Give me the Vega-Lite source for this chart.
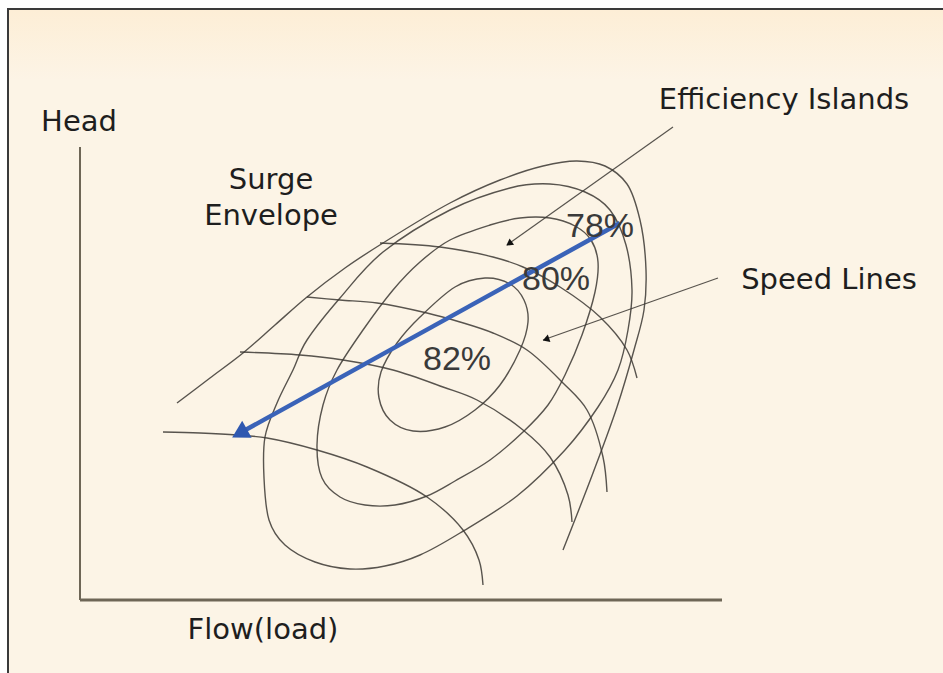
{
  "$schema": "https://vega.github.io/schema/vega-lite/v6.json",
  "width": 943,
  "height": 673,
  "padding": 0,
  "autosize": {"type": "fit", "contains": "padding"},
  "background": "#ffffff",
  "config": {"view": {"stroke": null}},
  "datasets": {
    "open": [
      {"curve":"surge","i":0,"flow":97,"head":197},{"curve":"surge","i":1,"flow":130,"head":222},{"curve":"surge","i":2,"flow":163,"head":247},{"curve":"surge","i":3,"flow":195,"head":275},{"curve":"surge","i":4,"flow":227,"head":303},{"curve":"surge","i":5,"flow":265,"head":332},{"curve":"surge","i":6,"flow":303,"head":357},{"curve":"surge","i":7,"flow":370,"head":397},{"curve":"surge","i":8,"flow":420,"head":420},{"curve":"surge","i":9,"flow":463,"head":434},{"curve":"surge","i":10,"flow":497,"head":439},{"curve":"surge","i":11,"flow":525,"head":434},{"curve":"surge","i":12,"flow":547,"head":416},{"curve":"surge","i":13,"flow":560,"head":380},{"curve":"surge","i":14,"flow":566,"head":330},{"curve":"surge","i":15,"flow":564,"head":290},{"curve":"surge","i":16,"flow":554,"head":250},{"curve":"surge","i":17,"flow":537,"head":193},{"curve":"surge","i":18,"flow":513,"head":127},{"curve":"surge","i":19,"flow":483,"head":50},
      {"curve":"S1","i":0,"flow":300,"head":357},{"curve":"S1","i":1,"flow":360,"head":353},{"curve":"S1","i":2,"flow":413,"head":343},{"curve":"S1","i":3,"flow":443,"head":333},{"curve":"S1","i":4,"flow":480,"head":313},{"curve":"S1","i":5,"flow":520,"head":283},{"curve":"S1","i":6,"flow":547,"head":250},{"curve":"S1","i":7,"flow":557,"head":222},
      {"curve":"S2","i":0,"flow":227,"head":303},{"curve":"S2","i":1,"flow":260,"head":300},{"curve":"S2","i":2,"flow":297,"head":297},{"curve":"S2","i":3,"flow":347,"head":287},{"curve":"S2","i":4,"flow":380,"head":278},{"curve":"S2","i":5,"flow":413,"head":267},{"curve":"S2","i":6,"flow":447,"head":250},{"curve":"S2","i":7,"flow":483,"head":217},{"curve":"S2","i":8,"flow":507,"head":190},{"curve":"S2","i":9,"flow":523,"head":143},{"curve":"S2","i":10,"flow":527,"head":108},
      {"curve":"S3","i":0,"flow":160,"head":248},{"curve":"S3","i":1,"flow":220,"head":245},{"curve":"S3","i":2,"flow":263,"head":240},{"curve":"S3","i":3,"flow":313,"head":230},{"curve":"S3","i":4,"flow":363,"head":213},{"curve":"S3","i":5,"flow":397,"head":200},{"curve":"S3","i":6,"flow":443,"head":170},{"curve":"S3","i":7,"flow":470,"head":143},{"curve":"S3","i":8,"flow":488,"head":105},{"curve":"S3","i":9,"flow":492,"head":78},
      {"curve":"S4","i":0,"flow":83,"head":168},{"curve":"S4","i":1,"flow":120,"head":167},{"curve":"S4","i":2,"flow":157,"head":165},{"curve":"S4","i":3,"flow":187,"head":162},{"curve":"S4","i":4,"flow":237,"head":150},{"curve":"S4","i":5,"flow":287,"head":133},{"curve":"S4","i":6,"flow":347,"head":103},{"curve":"S4","i":7,"flow":383,"head":70},{"curve":"S4","i":8,"flow":399,"head":40},{"curve":"S4","i":9,"flow":403,"head":15}
    ],
    "islands": [
      {"curve":"E82","i":0,"flow":340,"head":283},{"curve":"E82","i":1,"flow":375,"head":313},{"curve":"E82","i":2,"flow":405,"head":322},{"curve":"E82","i":3,"flow":430,"head":316},{"curve":"E82","i":4,"flow":444,"head":300},{"curve":"E82","i":5,"flow":448,"head":278},{"curve":"E82","i":6,"flow":440,"head":250},{"curve":"E82","i":7,"flow":420,"head":215},{"curve":"E82","i":8,"flow":395,"head":190},{"curve":"E82","i":9,"flow":365,"head":173},{"curve":"E82","i":10,"flow":333,"head":169},{"curve":"E82","i":11,"flow":310,"head":180},{"curve":"E82","i":12,"flow":299,"head":202},{"curve":"E82","i":13,"flow":301,"head":228},{"curve":"E82","i":14,"flow":317,"head":257},
      {"curve":"E80","i":0,"flow":237,"head":155},{"curve":"E80","i":1,"flow":242,"head":122},{"curve":"E80","i":2,"flow":260,"head":103},{"curve":"E80","i":3,"flow":285,"head":95},{"curve":"E80","i":4,"flow":315,"head":95},{"curve":"E80","i":5,"flow":347,"head":104},{"curve":"E80","i":6,"flow":375,"head":119},{"curve":"E80","i":7,"flow":410,"head":140},{"curve":"E80","i":8,"flow":443,"head":168},{"curve":"E80","i":9,"flow":468,"head":195},{"curve":"E80","i":10,"flow":485,"head":225},{"curve":"E80","i":11,"flow":502,"head":265},{"curve":"E80","i":12,"flow":515,"head":308},{"curve":"E80","i":13,"flow":518,"head":338},{"curve":"E80","i":14,"flow":511,"head":360},{"curve":"E80","i":15,"flow":495,"head":374},{"curve":"E80","i":16,"flow":470,"head":382},{"curve":"E80","i":17,"flow":440,"head":382},{"curve":"E80","i":18,"flow":410,"head":375},{"curve":"E80","i":19,"flow":370,"head":360},{"curve":"E80","i":20,"flow":340,"head":338},{"curve":"E80","i":21,"flow":313,"head":310},{"curve":"E80","i":22,"flow":283,"head":270},{"curve":"E80","i":23,"flow":257,"head":230},{"curve":"E80","i":24,"flow":243,"head":195},
      {"curve":"E78","i":0,"flow":185,"head":163},{"curve":"E78","i":1,"flow":184,"head":122},{"curve":"E78","i":2,"flow":189,"head":80},{"curve":"E78","i":3,"flow":205,"head":55},{"curve":"E78","i":4,"flow":235,"head":38},{"curve":"E78","i":5,"flow":270,"head":31},{"curve":"E78","i":6,"flow":305,"head":34},{"curve":"E78","i":7,"flow":340,"head":45},{"curve":"E78","i":8,"flow":380,"head":67},{"curve":"E78","i":9,"flow":437,"head":104},{"curve":"E78","i":10,"flow":485,"head":150},{"curve":"E78","i":11,"flow":518,"head":193},{"curve":"E78","i":12,"flow":538,"head":230},{"curve":"E78","i":13,"flow":548,"head":270},{"curve":"E78","i":14,"flow":552,"head":310},{"curve":"E78","i":15,"flow":546,"head":355},{"curve":"E78","i":16,"flow":530,"head":390},{"curve":"E78","i":17,"flow":505,"head":408},{"curve":"E78","i":18,"flow":470,"head":416},{"curve":"E78","i":19,"flow":430,"head":412},{"curve":"E78","i":20,"flow":370,"head":390},{"curve":"E78","i":21,"flow":303,"head":348},{"curve":"E78","i":22,"flow":260,"head":302},{"curve":"E78","i":23,"flow":227,"head":260},{"curve":"E78","i":24,"flow":213,"head":230},{"curve":"E78","i":25,"flow":197,"head":197}
    ],
    "leaders": [
      {"curve":"EI","i":0,"flow":593,"head":473},{"curve":"EI","i":1,"flow":427,"head":355},
      {"curve":"SL","i":0,"flow":638,"head":322},{"curve":"SL","i":1,"flow":463,"head":260}
    ],
    "blue": [
      {"curve":"arrow","i":0,"flow":540,"head":377},{"curve":"arrow","i":1,"flow":160,"head":167}
    ]
  },
  "layer": [
    {
      "data": {"values": [{"x1": -72, "x2": 900, "y1": 591, "y2": -120}]},
      "mark": {"type": "rect", "fill": "#fcf4e6", "stroke": "#3a3a3a", "strokeWidth": 2, "clip": true},
      "encoding": {
        "x": {"field": "x1", "type": "quantitative", "scale": {"domain": [-80, 863], "nice": false, "zero": false}, "axis": null},
        "x2": {"field": "x2"},
        "y": {"field": "y1", "type": "quantitative", "scale": {"domain": [-73, 600], "nice": false, "zero": false}, "axis": null},
        "y2": {"field": "y2"}
      }
    },
    {
      "data": {"values": [{"x1": -71, "x2": 863, "y1": 590, "y2": 520}]},
      "mark": {"type": "rect", "clip": true, "fill": {"gradient": "linear", "x1": 0, "y1": 0, "x2": 0, "y2": 1, "stops": [{"offset": 0, "color": "#fdeed6"}, {"offset": 1, "color": "#fcf4e6"}]}},
      "encoding": {
        "x": {"field": "x1", "type": "quantitative", "scale": {"domain": [-80, 863], "nice": false, "zero": false}, "axis": null},
        "x2": {"field": "x2"},
        "y": {"field": "y1", "type": "quantitative", "scale": {"domain": [-73, 600], "nice": false, "zero": false}, "axis": null},
        "y2": {"field": "y2"}
      }
    },
    {
      "data": {"values": [{"axis": "Head", "x1": 0, "x2": 0, "y1": 0, "y2": 453}]},
      "mark": {"type": "rule", "stroke": "#6e6656", "strokeWidth": 2},
      "encoding": {
        "x": {"field": "x1", "type": "quantitative", "scale": {"domain": [-80, 863], "nice": false, "zero": false}, "axis": null},
        "x2": {"field": "x2"},
        "y": {"field": "y1", "type": "quantitative", "scale": {"domain": [-73, 600], "nice": false, "zero": false}, "axis": null},
        "y2": {"field": "y2"}
      }
    },
    {
      "data": {"values": [{"axis": "Flow", "x1": 0, "x2": 642, "y1": 0, "y2": 0}]},
      "mark": {"type": "rule", "stroke": "#6e6656", "strokeWidth": 3},
      "encoding": {
        "x": {"field": "x1", "type": "quantitative", "scale": {"domain": [-80, 863], "nice": false, "zero": false}, "axis": null},
        "x2": {"field": "x2"},
        "y": {"field": "y1", "type": "quantitative", "scale": {"domain": [-73, 600], "nice": false, "zero": false}, "axis": null},
        "y2": {"field": "y2"}
      }
    },
    {
      "data": {"name": "open"},
      "mark": {"type": "line", "interpolate": "catmull-rom", "stroke": "#3b3733", "strokeWidth": 1.4, "strokeOpacity": 0.85},
      "encoding": {
        "x": {"field": "flow", "type": "quantitative", "scale": {"domain": [-80, 863], "nice": false, "zero": false}, "axis": null},
        "y": {"field": "head", "type": "quantitative", "scale": {"domain": [-73, 600], "nice": false, "zero": false}, "axis": null},
        "detail": {"field": "curve"},
        "order": {"field": "i", "type": "quantitative"}
      }
    },
    {
      "data": {"name": "islands"},
      "mark": {"type": "line", "interpolate": "cardinal-closed", "stroke": "#3b3733", "strokeWidth": 1.4, "strokeOpacity": 0.85},
      "encoding": {
        "x": {"field": "flow", "type": "quantitative", "scale": {"domain": [-80, 863], "nice": false, "zero": false}, "axis": null},
        "y": {"field": "head", "type": "quantitative", "scale": {"domain": [-73, 600], "nice": false, "zero": false}, "axis": null},
        "detail": {"field": "curve"},
        "order": {"field": "i", "type": "quantitative"}
      }
    },
    {
      "data": {"name": "leaders"},
      "mark": {"type": "line", "stroke": "#3b3733", "strokeWidth": 1.2, "strokeOpacity": 0.85},
      "encoding": {
        "x": {"field": "flow", "type": "quantitative", "scale": {"domain": [-80, 863], "nice": false, "zero": false}, "axis": null},
        "y": {"field": "head", "type": "quantitative", "scale": {"domain": [-73, 600], "nice": false, "zero": false}, "axis": null},
        "detail": {"field": "curve"},
        "order": {"field": "i", "type": "quantitative"}
      }
    },
    {
      "data": {"values": [{"tip": "EI", "flow": 430, "head": 357}]},
      "mark": {"type": "point", "shape": "triangle", "filled": true, "color": "#111111", "opacity": 1, "size": 60, "angle": 234.6},
      "encoding": {
        "x": {"field": "flow", "type": "quantitative", "scale": {"domain": [-80, 863], "nice": false, "zero": false}, "axis": null},
        "y": {"field": "head", "type": "quantitative", "scale": {"domain": [-73, 600], "nice": false, "zero": false}, "axis": null}
      }
    },
    {
      "data": {"values": [{"tip": "SL", "flow": 467, "head": 261}]},
      "mark": {"type": "point", "shape": "triangle", "filled": true, "color": "#111111", "opacity": 1, "size": 60, "angle": 250.5},
      "encoding": {
        "x": {"field": "flow", "type": "quantitative", "scale": {"domain": [-80, 863], "nice": false, "zero": false}, "axis": null},
        "y": {"field": "head", "type": "quantitative", "scale": {"domain": [-73, 600], "nice": false, "zero": false}, "axis": null}
      }
    },
    {
      "data": {"name": "blue"},
      "mark": {"type": "line", "stroke": "#3a63b8", "strokeWidth": 4.5},
      "encoding": {
        "x": {"field": "flow", "type": "quantitative", "scale": {"domain": [-80, 863], "nice": false, "zero": false}, "axis": null},
        "y": {"field": "head", "type": "quantitative", "scale": {"domain": [-73, 600], "nice": false, "zero": false}, "axis": null},
        "detail": {"field": "curve"},
        "order": {"field": "i", "type": "quantitative"}
      }
    },
    {
      "data": {"values": [{"tip": "arrow", "flow": 162, "head": 168}]},
      "mark": {"type": "point", "shape": "triangle", "filled": true, "color": "#2f58b0", "opacity": 1, "size": 380, "angle": 241},
      "encoding": {
        "x": {"field": "flow", "type": "quantitative", "scale": {"domain": [-80, 863], "nice": false, "zero": false}, "axis": null},
        "y": {"field": "head", "type": "quantitative", "scale": {"domain": [-73, 600], "nice": false, "zero": false}, "axis": null}
      }
    },
    {
      "data": {"values": [
        {"label": "Head", "flow": -1, "head": 469},
        {"label": "Surge", "flow": 191, "head": 411},
        {"label": "Envelope", "flow": 191, "head": 375},
        {"label": "Efficiency Islands", "flow": 704, "head": 491},
        {"label": "Speed Lines", "flow": 749, "head": 311},
        {"label": "Flow(load)", "flow": 183, "head": -39}
      ]},
      "mark": {"type": "text", "font": "DejaVu Sans", "fontSize": 29, "align": "center", "baseline": "alphabetic", "color": "#1e1e1e"},
      "encoding": {
        "x": {"field": "flow", "type": "quantitative", "scale": {"domain": [-80, 863], "nice": false, "zero": false}, "axis": null},
        "y": {"field": "head", "type": "quantitative", "scale": {"domain": [-73, 600], "nice": false, "zero": false}, "axis": null},
        "text": {"field": "label"}
      }
    },
    {
      "data": {"values": [
        {"label": "78%", "flow": 520, "head": 363},
        {"label": "80%", "flow": 476, "head": 310},
        {"label": "82%", "flow": 377, "head": 230}
      ]},
      "mark": {"type": "text", "font": "Liberation Sans", "fontSize": 34, "align": "center", "baseline": "alphabetic", "color": "#3a3a3a"},
      "encoding": {
        "x": {"field": "flow", "type": "quantitative", "scale": {"domain": [-80, 863], "nice": false, "zero": false}, "axis": null},
        "y": {"field": "head", "type": "quantitative", "scale": {"domain": [-73, 600], "nice": false, "zero": false}, "axis": null},
        "text": {"field": "label"}
      }
    }
  ]
}
